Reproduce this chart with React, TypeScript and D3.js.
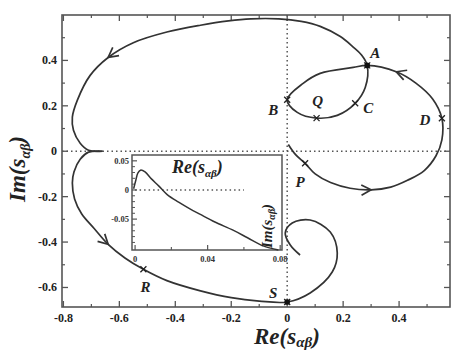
import React from "react";
import * as d3 from "d3";

// ---- data (Re, Im) ----
const upperBranch: [number, number][] = [
  [0.004, 0.03], [0.03, -0.015], [0.064, -0.053], [0.1, -0.1], [0.155, -0.138],
  [0.225, -0.163], [0.3, -0.17], [0.37, -0.158], [0.43, -0.128], [0.49, -0.085],
  [0.532, -0.02], [0.553, 0.05], [0.553, 0.145], [0.52, 0.23], [0.46, 0.3],
  [0.39, 0.35], [0.286, 0.378], [0.236, 0.369], [0.118, 0.343], [0.057, 0.299],
  [0.0, 0.227], [0.036, 0.171], [0.105, 0.146], [0.179, 0.158], [0.243, 0.211],
  [0.279, 0.281], [0.286, 0.378], [0.265, 0.425], [0.235, 0.46], [0.19, 0.505],
  [0.118, 0.55], [0.05, 0.572], [-0.03, 0.583], [-0.13, 0.583], [-0.21, 0.574],
  [-0.31, 0.555], [-0.43, 0.525], [-0.55, 0.478], [-0.64, 0.413], [-0.705, 0.333],
  [-0.75, 0.225], [-0.768, 0.15], [-0.764, 0.092], [-0.74, 0.035], [-0.71, 0.004],
  [-0.66, 0.0],
];
const lowerBranch: [number, number][] = [
  [-0.66, 0.0], [-0.71, -0.004], [-0.74, -0.035], [-0.762, -0.09], [-0.768, -0.14],
  [-0.76, -0.21], [-0.735, -0.275], [-0.69, -0.34], [-0.64, -0.41], [-0.58, -0.47],
  [-0.514, -0.52], [-0.43, -0.57], [-0.31, -0.615], [-0.2, -0.645], [-0.1, -0.66],
  [0.0, -0.664], [0.082, -0.624], [0.161, -0.532], [0.179, -0.448], [0.154, -0.356],
  [0.082, -0.303], [0.018, -0.316], [-0.007, -0.36], [0.011, -0.413], [0.046, -0.457],
];
const insetCurve: [number, number][] = [
  [-0.0008, 0.002], [0.0005, 0.018], [0.0015, 0.029], [0.003, 0.034], [0.0055, 0.031],
  [0.009, 0.019], [0.013, 0.007], [0.0177, -0.008], [0.024, -0.021], [0.03, -0.032],
  [0.036, -0.042], [0.044, -0.055], [0.054, -0.069], [0.062, -0.082], [0.0706, -0.096],
  [0.079, -0.103],
];
const pointLabels = ["A", "B", "Q", "C", "D", "P", "R", "S"];
const pointRe = [0.286, 0.0, 0.105, 0.243, 0.553, 0.064, -0.514, 0.0];
const pointIm = [0.378, 0.227, 0.146, 0.211, 0.145, -0.053, -0.52, -0.664];
const filledPoints = ["A", "S"];
const arrowPoints: [number, number][] = [[-0.64, 0.413], [0.39, 0.35], [0.3, -0.17], [-0.64, -0.41]];
const xMajorTicks = [-0.8, -0.6, -0.4, -0.2, 0, 0.2, 0.4];
const xMinorTicks = [-0.7, -0.5, -0.3, -0.1, 0.1, 0.3, 0.5];
const yMajorTicks = [-0.6, -0.4, -0.2, 0, 0.2, 0.4];
const yMinorTicks = [-0.5, -0.3, -0.1, 0.1, 0.3, 0.5];
const insetXMajor = [0, 0.04, 0.08];
const insetXMinor = [0.02, 0.06];
const insetYMajor = [0.05, 0, -0.05];
const insetYMinor = [0.04, 0.03, 0.02, 0.01, -0.01, -0.02, -0.03, -0.04, -0.06, -0.07, -0.08, -0.09];

const fmt = (v: number) => (Math.abs(v) < 1e-9 ? "0" : String(v));

const labelOffsets: Record<string, [number, number]> = {
  A: [8, -7], B: [-14, 15], Q: [1, -12], C: [13, 10], D: [-17, 7],
  P: [-5, 24], R: [2, 23], S: [-14, -4],
};

export default function App() {
  const W = 451, H = 351;
  const x = d3.scaleLinear().domain([-0.805, 0.582]).range([62, 450]);
  const y = d3.scaleLinear().domain([-0.686, 0.6]).range([307, 15]);
  const xi = d3.scaleLinear().domain([-0.0017, 0.081]).range([132, 282]);
  const yi = d3.scaleLinear().domain([-0.103, 0.06]).range([250, 155]);

  const line = d3.line<[number, number]>().x(d => x(d[0])).y(d => y(d[1])).curve(d3.curveCatmullRom.alpha(0.5));
  const lineI = d3.line<[number, number]>().x(d => xi(d[0])).y(d => yi(d[1])).curve(d3.curveCatmullRom.alpha(0.5));

  const stroke = "#333";
  const frame = "#555";
  const serif = "'Liberation Serif', 'DejaVu Serif', serif";

  // arrows
  const arrows = arrowPoints.map((ap, k) => {
    let best = { br: upperBranch, i: 1, d: Infinity };
    for (const br of [upperBranch, lowerBranch]) {
      br.forEach((p, i) => {
        if (i === 0 || i === br.length - 1) return;
        const dd = (p[0] - ap[0]) ** 2 + (p[1] - ap[1]) ** 2;
        if (dd < best.d) best = { br, i, d: dd };
      });
    }
    const p0 = best.br[best.i - 1], p1 = best.br[best.i], p2 = best.br[best.i + 1];
    const tx = x(p2[0]) - x(p0[0]), ty = y(p2[1]) - y(p0[1]);
    const ang = Math.atan2(ty, tx);
    const px = x(p1[0]), py = y(p1[1]);
    const L = 11, a = (28 * Math.PI) / 180;
    const b1 = [px - L * Math.cos(ang - a), py - L * Math.sin(ang - a)];
    const b2 = [px - L * Math.cos(ang + a), py - L * Math.sin(ang + a)];
    return <path key={k} d={`M${b1[0]},${b1[1]}L${px},${py}L${b2[0]},${b2[1]}`} fill="none" stroke={stroke} strokeWidth={1.7} />;
  });

  const x0 = 62, x1 = 450, y0 = 15, y1 = 307;
  const ix0 = 132, ix1 = 282, iy0 = 155, iy1 = 250;

  return (
    <svg width={W} height={H} style={{ position: "absolute", left: 0, top: 0, background: "#fff" }}>
      <rect x={0} y={0} width={W} height={H} fill="#fff" />
      {/* dotted zero lines */}
      <line x1={x0} x2={x1} y1={y(0)} y2={y(0)} stroke="#555" strokeWidth={1.5} strokeDasharray="1.5,3" />
      <line x1={x(0)} x2={x(0)} y1={y0} y2={y1} stroke="#555" strokeWidth={1.5} strokeDasharray="1.5,3" />
      {/* main frame */}
      <rect x={x0} y={y0} width={x1 - x0} height={y1 - y0} fill="none" stroke={frame} strokeWidth={1.6} />
      {xMajorTicks.map(v => (
        <g key={"xM" + v}>
          <line x1={x(v)} x2={x(v)} y1={y1} y2={y1 - 6} stroke={frame} strokeWidth={1.3} />
          <line x1={x(v)} x2={x(v)} y1={y0} y2={y0 + 6} stroke={frame} strokeWidth={1.3} />
          <text x={x(v)} y={322} textAnchor="middle" fontFamily={serif} fontWeight="bold" fontSize={12} fill="#222">{fmt(v)}</text>
        </g>
      ))}
      {xMinorTicks.map(v => (
        <g key={"xm" + v}>
          <line x1={x(v)} x2={x(v)} y1={y1} y2={y1 - 3} stroke={frame} strokeWidth={1.2} />
          <line x1={x(v)} x2={x(v)} y1={y0} y2={y0 + 3} stroke={frame} strokeWidth={1.2} />
        </g>
      ))}
      {yMajorTicks.map(v => (
        <g key={"yM" + v}>
          <line x1={x0} x2={x0 + 6} y1={y(v)} y2={y(v)} stroke={frame} strokeWidth={1.3} />
          <line x1={x1} x2={x1 - 6} y1={y(v)} y2={y(v)} stroke={frame} strokeWidth={1.3} />
          <text x={57} y={y(v) + 4} textAnchor="end" fontFamily={serif} fontWeight="bold" fontSize={12} fill="#222">{fmt(v)}</text>
        </g>
      ))}
      {yMinorTicks.map(v => (
        <g key={"ym" + v}>
          <line x1={x0} x2={x0 + 3} y1={y(v)} y2={y(v)} stroke={frame} strokeWidth={1.2} />
          <line x1={x1} x2={x1 - 3} y1={y(v)} y2={y(v)} stroke={frame} strokeWidth={1.2} />
        </g>
      ))}

      {/* curves */}
      <path d={line(upperBranch) || ""} fill="none" stroke={stroke} strokeWidth={1.7} />
      <path d={line(lowerBranch) || ""} fill="none" stroke={stroke} strokeWidth={1.7} />
      {arrows}

      {/* points */}
      {pointLabels.map((lab, i) => {
        const px = x(pointRe[i]), py = y(pointIm[i]);
        const off = labelOffsets[lab];
        return (
          <g key={lab}>
            <path d={`M${px - 3},${py - 3}L${px + 3},${py + 3}M${px - 3},${py + 3}L${px + 3},${py - 3}`} stroke="#222" strokeWidth={1.3} />
            {filledPoints.includes(lab) && <circle cx={px} cy={py} r={2.8} fill="#111" />}
            <text x={px + off[0]} y={py + off[1]} textAnchor="middle" fontFamily={serif} fontStyle="italic" fontWeight="bold" fontSize={15} fill="#222">{lab}</text>
          </g>
        );
      })}

      {/* inset */}
      <rect x={ix0} y={iy0} width={ix1 - ix0} height={iy1 - iy0} fill="#fff" stroke={frame} strokeWidth={1.5} />
      <line x1={xi(0)} x2={xi(0.06)} y1={yi(0)} y2={yi(0)} stroke="#555" strokeWidth={1.4} strokeDasharray="1.5,3" />
      {insetXMajor.map(v => (
        <g key={"ixM" + v}>
          <line x1={xi(v)} x2={xi(v)} y1={iy1} y2={iy1 - 5} stroke={frame} strokeWidth={1.2} />
          <text x={xi(v)} y={262} textAnchor="middle" fontFamily={serif} fontWeight="bold" fontSize={8.5} fill="#333">{fmt(v)}</text>
        </g>
      ))}
      {insetXMinor.map(v => (
        <line key={"ixm" + v} x1={xi(v)} x2={xi(v)} y1={iy1} y2={iy1 - 3} stroke={frame} strokeWidth={1.1} />
      ))}
      {insetYMajor.map(v => (
        <g key={"iyM" + v}>
          <line x1={ix0} x2={ix0 + 5} y1={yi(v)} y2={yi(v)} stroke={frame} strokeWidth={1.2} />
          <text x={129} y={yi(v) + 3} textAnchor="end" fontFamily={serif} fontWeight="bold" fontSize={8.5} fill="#333">{fmt(v)}</text>
        </g>
      ))}
      {insetYMinor.map(v => (
        <line key={"iym" + v} x1={ix0} x2={ix0 + 3} y1={yi(v)} y2={yi(v)} stroke={frame} strokeWidth={1} />
      ))}
      <path d={lineI(insetCurve) || ""} fill="none" stroke={stroke} strokeWidth={1.5} />
      <text x={172} y={173} fontFamily={serif} fontStyle="italic" fontWeight="bold" fontSize={18} fill="#222">
        Re(s<tspan fontSize={11} dy={4}>αβ</tspan><tspan dy={-4}>)</tspan>
      </text>
      <text transform={`translate(272,248) rotate(-90)`} fontFamily={serif} fontStyle="italic" fontWeight="bold" fontSize={15} fill="#222">
        Im(s<tspan fontSize={10} dy={3}>αβ</tspan><tspan dy={-3}>)</tspan>
      </text>

      {/* main axis titles */}
      <text x={254} y={344} fontFamily={serif} fontStyle="italic" fontWeight="bold" fontSize={23} fill="#222">
        Re(s<tspan fontSize={15} dy={3}>αβ</tspan><tspan dy={-3}>)</tspan>
      </text>
      <text transform={`translate(25,202) rotate(-90)`} fontFamily={serif} fontStyle="italic" fontWeight="bold" fontSize={23} fill="#222">
        Im(s<tspan fontSize={14} dy={5}>αβ</tspan><tspan dy={-5}>)</tspan>
      </text>
    </svg>
  );
}
